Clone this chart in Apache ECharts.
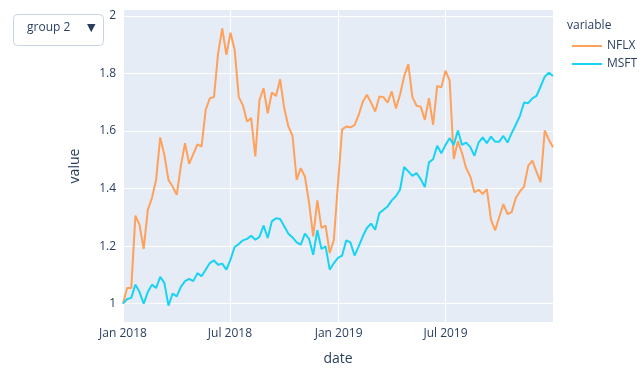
<!DOCTYPE html>
<html>
<head>
<meta charset="utf-8">
<script src="https://cdn.jsdelivr.net/npm/echarts@6/dist/echarts.min.js"></script>
<style>
html,body{margin:0;padding:0;background:#fff;}
#chart{width:642px;height:383px;}
</style>
</head>
<body>
<div id="chart"></div>
<script>
// Weekly dates: first Monday 2018-01-01, 105 weeks through 2019-12-30
const startDate = Date.UTC(2018, 0, 1);
const weekCount = 105;
const dates = [];
for (let i = 0; i < weekCount; i++) dates.push(startDate + i * 7 * 86400000);

const nflx = [1.0, 1.054, 1.054, 1.306, 1.274, 1.19, 1.326, 1.367, 1.43, 1.578,
  1.517, 1.43, 1.407, 1.378, 1.479, 1.558, 1.486, 1.52, 1.554, 1.546,
  1.674, 1.714, 1.718, 1.87, 1.957, 1.865, 1.942, 1.884, 1.718, 1.69,
  1.633, 1.645, 1.512, 1.708, 1.749, 1.662, 1.734, 1.722, 1.78, 1.679,
  1.616, 1.583, 1.43, 1.471, 1.442, 1.35, 1.234, 1.359, 1.263, 1.271,
  1.176, 1.222, 1.419, 1.606, 1.616, 1.613, 1.621, 1.656, 1.702, 1.726,
  1.699, 1.668, 1.72, 1.718, 1.699, 1.738, 1.679, 1.726, 1.79, 1.833,
  1.718, 1.688, 1.685, 1.639, 1.714, 1.622, 1.757, 1.752, 1.81, 1.775,
  1.503, 1.565, 1.523, 1.471, 1.442, 1.387, 1.396, 1.381, 1.398, 1.292,
  1.255, 1.301, 1.346, 1.311, 1.318, 1.367, 1.39, 1.407, 1.479, 1.497,
  1.459, 1.422, 1.602, 1.57, 1.544];

const msft = [1.0, 1.016, 1.02, 1.066, 1.04, 1.0, 1.04, 1.066, 1.054, 1.093,
  1.072, 0.993, 1.035, 1.025, 1.058, 1.078, 1.086, 1.078, 1.106, 1.095,
  1.118, 1.141, 1.15, 1.135, 1.139, 1.118, 1.153, 1.197, 1.207, 1.22,
  1.225, 1.236, 1.222, 1.232, 1.271, 1.228, 1.286, 1.297, 1.294, 1.269,
  1.243, 1.23, 1.213, 1.205, 1.243, 1.225, 1.17, 1.255, 1.19, 1.199,
  1.118, 1.141, 1.159, 1.167, 1.22, 1.213, 1.167, 1.199, 1.234, 1.263,
  1.278, 1.257, 1.315, 1.326, 1.338, 1.359, 1.373, 1.396, 1.475, 1.46,
  1.444, 1.454, 1.433, 1.405, 1.491, 1.502, 1.549, 1.523, 1.552, 1.575,
  1.552, 1.602, 1.552, 1.56, 1.544, 1.514, 1.56, 1.578, 1.558, 1.581,
  1.563, 1.563, 1.583, 1.56, 1.593, 1.622, 1.653, 1.699, 1.697, 1.714,
  1.722, 1.755, 1.789, 1.803, 1.792];

const xTicks = [Date.UTC(2018, 0, 1), Date.UTC(2018, 6, 1), Date.UTC(2019, 0, 1), Date.UTC(2019, 6, 1)];
const yTicks = [1, 1.2, 1.4, 1.6, 1.8, 2];
const monthNames = ['Jan','Feb','Mar','Apr','May','Jun','Jul','Aug','Sep','Oct','Nov','Dec'];

const FONT = '"Open Sans", sans-serif';
const TXT = '#2a3f5f';

const chart = echarts.init(document.getElementById('chart'), null, {renderer: 'canvas'});
chart.setOption({
  animation: false,
  backgroundColor: '#fff',
  textStyle: {fontFamily: FONT, color: TXT},
  grid: {left: 123, right: 89, top: 10, bottom: 61, containLabel: false,
         show: true, backgroundColor: '#E5ECF6', borderWidth: 0},
  title: {text: 'variable', left: 562, top: 15,
          textStyle: {fontFamily: FONT, fontSize: 12, fontWeight: 'normal', color: TXT}},
  legend: {
    orient: 'vertical', left: 567, top: 35, itemGap: 6,
    icon: 'rect', itemWidth: 30, itemHeight: 2,
    textStyle: {fontFamily: FONT, fontSize: 12, color: TXT},
    data: ['NFLX', 'MSFT']
  },
  xAxis: {
    type: 'value',
    min: startDate, max: dates[dates.length - 1],
    name: 'date', nameLocation: 'middle', nameGap: 30,
    nameTextStyle: {fontFamily: FONT, fontSize: 14, color: TXT},
    axisLine: {show: false},
    axisTick: {show: false, customValues: xTicks},
    axisLabel: {customValues: xTicks, margin: 6, fontFamily: FONT, fontSize: 12, color: TXT,
      showMinLabel: true, showMaxLabel: true,
      formatter: function (v) { const d = new Date(v); return monthNames[d.getUTCMonth()] + ' ' + d.getUTCFullYear(); }},
    splitLine: {show: true, lineStyle: {color: '#fff', width: 1}}
  },
  yAxis: {
    type: 'value', min: 0.936, max: 2.021,
    name: 'value', nameLocation: 'middle', nameGap: 41, nameRotate: 90,
    nameTextStyle: {fontFamily: FONT, fontSize: 14, color: TXT},
    axisLine: {show: false},
    axisTick: {show: false, customValues: yTicks},
    axisLabel: {customValues: yTicks, margin: 7, fontFamily: FONT, fontSize: 12, color: TXT,
      formatter: function (v) { return String(Math.round(v * 10) / 10); }},
    splitLine: {show: true, lineStyle: {color: '#fff', width: 1}}
  },
  graphic: [
    {type: 'rect', left: 13, top: 14, shape: {width: 90, height: 31, r: 4},
     style: {fill: '#fff', stroke: '#c8d4e3', lineWidth: 1}},
    {type: 'text', left: 27, top: 22, style: {text: 'group 2', font: '12px "Open Sans", sans-serif', fill: TXT}},
    {type: 'text', left: 87, top: 23, style: {text: '▼', font: '11px "DejaVu Sans", sans-serif', fill: TXT}}
  ],
  series: [
    {name: 'NFLX', type: 'line', showSymbol: false, symbol: 'none',
     data: dates.map((d, i) => [d, nflx[i]]),
     lineStyle: {color: '#FFA15A', width: 2}, itemStyle: {color: '#FFA15A'}},
    {name: 'MSFT', type: 'line', showSymbol: false, symbol: 'none',
     data: dates.map((d, i) => [d, msft[i]]),
     lineStyle: {color: '#19D3F3', width: 2}, itemStyle: {color: '#19D3F3'}}
  ]
});
</script>
</body>
</html>
